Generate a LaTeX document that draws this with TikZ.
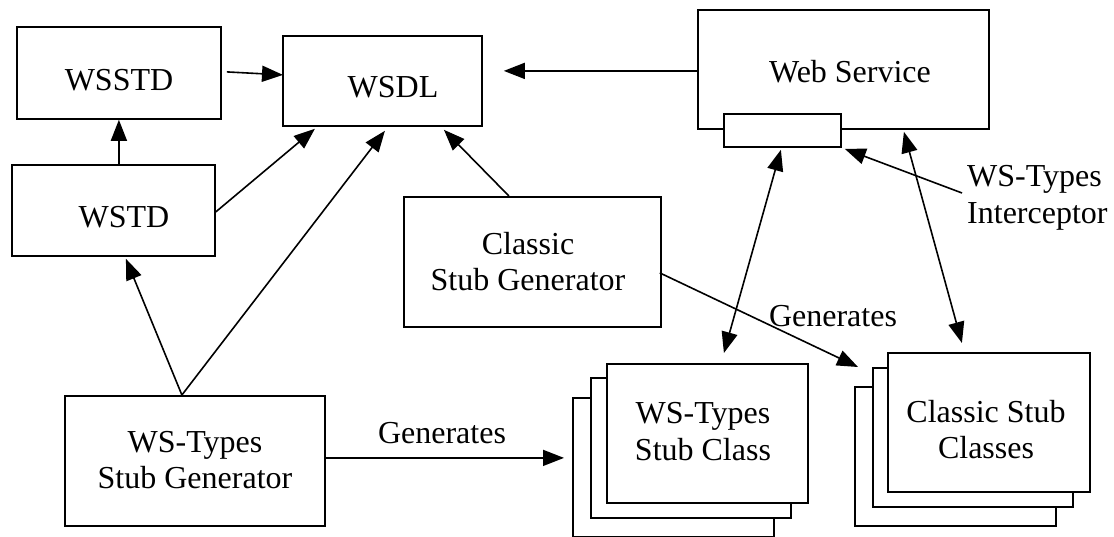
\documentclass[tikz,border=0pt]{standalone}
\usepackage{fontspec}
\setmainfont{Liberation Serif}
\usetikzlibrary{arrows.meta}
\begin{document}
\begin{tikzpicture}[x=1pt, y=-1pt,
  frame/.style={draw, line width=1.8pt, fill=white, inner sep=0pt, anchor=north west},
  txt/.style={font=\fontsize{32}{36.5}\selectfont, align=center, inner sep=0pt},
  arr/.style={line width=1.6pt, -{Triangle[length=21pt 0, width=16pt 0]}},
  biarr/.style={line width=1.6pt, {Triangle[length=21pt 0, width=16pt 0]}-{Triangle[length=21pt 0, width=16pt 0]}}]

% canvas
\path[fill=white, use as bounding box] (0,0) rectangle (1114,537);

% boxes
\node[frame, minimum width=204pt, minimum height=92pt]  (wsstd)   at (16,26)  {};
\node[frame, minimum width=199pt, minimum height=90pt]  (wsdl)    at (282,35) {};
\node[frame, minimum width=203pt, minimum height=91pt]  (wstd)    at (11,164) {};
\node[frame, minimum width=291pt, minimum height=119pt] (websvc)  at (697,9)  {};
\node[frame, minimum width=117pt, minimum height=33pt]  (icpt)    at (723,113) {};
\node[frame, minimum width=257pt, minimum height=130pt] (classic) at (403,196) {};
\node[frame, minimum width=260pt, minimum height=130pt] (wsgen)   at (64,395) {};

% stacked stub class boxes
\node[frame, minimum width=201pt, minimum height=139pt] (wsc3) at (572,397) {};
\node[frame, minimum width=200pt, minimum height=140pt] (wsc2) at (590,377) {};
\node[frame, minimum width=201pt, minimum height=139pt] (wsc1) at (606,363) {};
\node[frame, minimum width=201pt, minimum height=139pt] (cc3)  at (854,386) {};
\node[frame, minimum width=200pt, minimum height=139pt] (cc2)  at (872,367) {};
\node[frame, minimum width=202pt, minimum height=139pt] (cc1)  at (887,352) {};

% box texts
\node[txt] (wsstdT)   at (119,80)    {WSSTD};
\node[txt] (wsdlT)    at (393,87)    {WSDL};
\node[txt] (wstdT)    at (124,217)   {WSTD};
\node[txt] (websvcT)  at (850,72)    {Web Service};
\node[txt] (classicT) at (528,261.5) {Classic\\Stub Generator};
\node[txt] (wsgenT)   at (195,460)   {WS-Types\\Stub Generator};
\node[txt] (wsc1T)    at (703,431.5) {WS-Types\\Stub Class};
\node[txt] (cc1T)     at (986,429.5) {Classic Stub\\Classes};

% free labels
\node[txt] (gen1) at (442,433) {Generates};
\node[txt] (gen2) at (833,316) {Generates};
\node[txt, align=left, anchor=west] (icptlbl) at (967,198) {WS-Types\\Interceptor};

% connectors
\draw[arr] ([shift={(5.5,0)}]wstd.north) -- (wsstd.south);
\draw[arr] ([shift={(5,-1)}]wsstd.east) -- ([shift={(1,-6)}]wsdl.west);
\draw[arr] ([shift={(0,1.5)}]wstd.east) -- ([shift={(-67.5,2)}]wsdl.south);
\draw[arr] ([shift={(-13,0)}]wsgen.north) -- ([shift={(12.5,2)}]wstd.south);
\draw[arr] ([shift={(-13,0)}]wsgen.north) -- ([shift={(2.5,4)}]wsdl.south);
\draw[arr] ([shift={(-23.5,0)}]classic.north) -- ([shift={(61.5,3)}]wsdl.south);
\draw[arr] ([shift={(0,1.5)}]websvc.west) -- ([shift={(21,-10)}]wsdl.east);
\draw[arr] ([shift={(0,-3)}]wsgen.east) -- ([shift={(-8,-9.5)}]wsc3.west);
\draw[arr] ([shift={(-2,11)}]classic.east) -- ([shift={(4,-19)}]cc3.north west);
\draw[biarr] ([shift={(-1.5,2)}]icpt.south) -- ([shift={(16.5,-10)}]wsc1.north);
\draw[biarr] ([shift={(60.5,2)}]websvc.south) -- ([shift={(-27,-9)}]cc1.north);
\draw[arr] ([shift={(-5,-5)}]icptlbl.west) -- ([shift={(3,18.5)}]icpt.east);

\end{tikzpicture}
\end{document}
